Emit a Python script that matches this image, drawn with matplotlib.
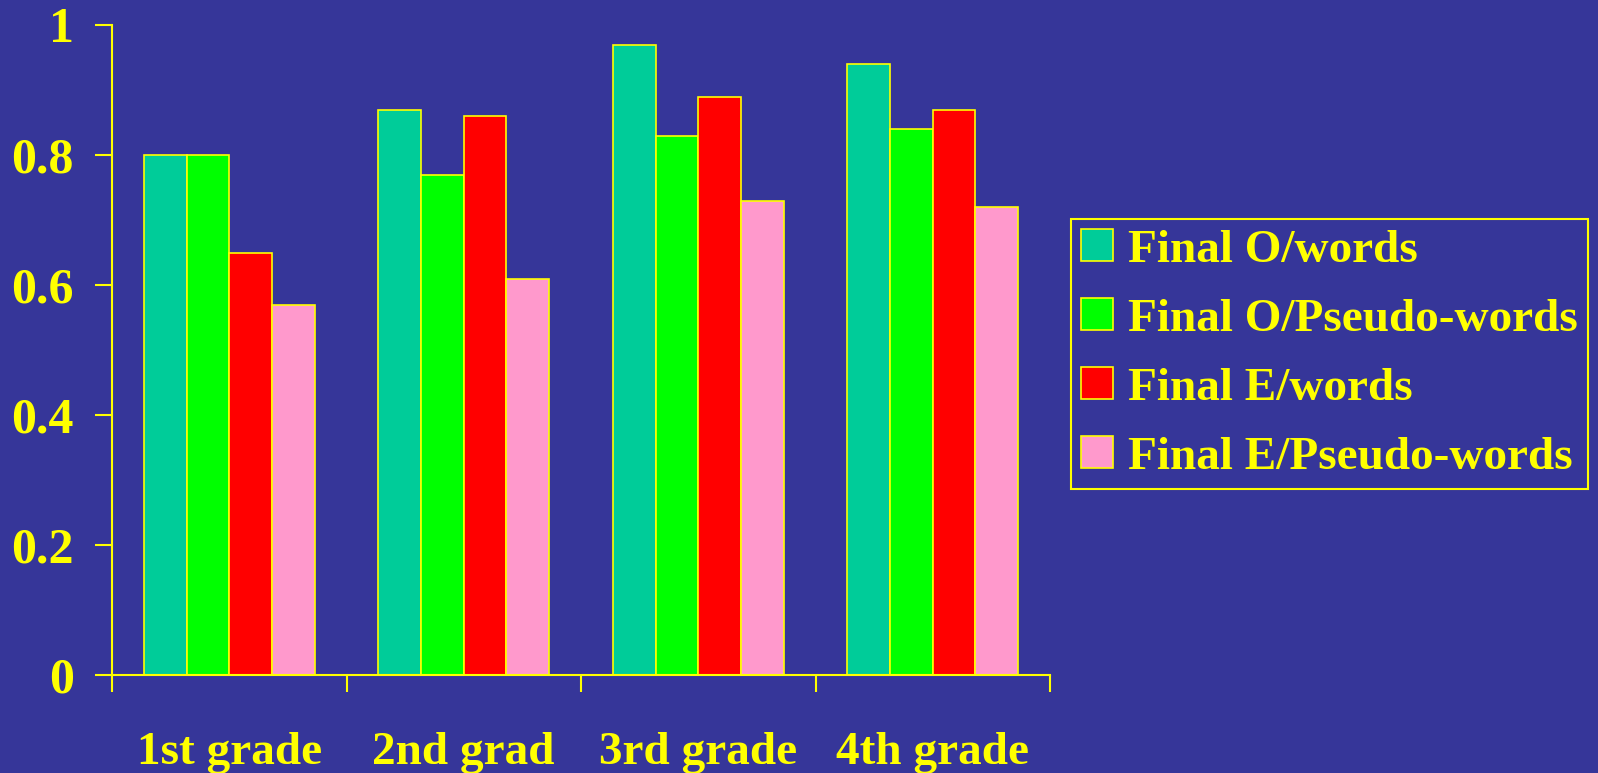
import numpy as np
import matplotlib
matplotlib.use("Agg")
import matplotlib.pyplot as plt

# data
grades = ["1st grade", "2nd grad", "3rd grade", "4th grade"]
series_names = ["Final O/words", "Final O/Pseudo-words", "Final E/words", "Final E/Pseudo-words"]
o_words = [0.80, 0.87, 0.97, 0.94]
o_pseudo = [0.80, 0.77, 0.83, 0.84]
e_words = [0.65, 0.86, 0.89, 0.87]
e_pseudo = [0.57, 0.61, 0.73, 0.72]
yticks = [0, 0.2, 0.4, 0.6, 0.8, 1]
ytick_labels = ["0", "0.2", "0.4", "0.6", "0.8", "1"]

bg = "#363699"
yellow = "#ffff00"
colors = ["#00cc99", "#00ff00", "#ff0000", "#ff99cc"]

plt.rcParams["font.family"] = ["Liberation Serif", "DejaVu Serif"]
plt.rcParams["font.weight"] = "bold"

fig = plt.figure(figsize=(15.98, 7.73), dpi=100, facecolor=bg)
ax = fig.add_axes([112 / 1598, 1 - 675 / 773, (1050 - 112) / 1598, (675 - 25) / 773])
ax.set_facecolor(bg)

x = np.arange(len(grades))
width = 0.182
all_series = [o_words, o_pseudo, e_words, e_pseudo]
for i, (vals, name) in enumerate(zip(all_series, series_names)):
    ax.bar(x + (i - 1.5) * width, vals, width, color=colors[i], edgecolor=yellow,
           linewidth=1.2, label=name)

ax.set_xlim(-0.5, len(grades) - 0.5)
ax.set_ylim(0, 1)

ax.set_yticks(yticks)
ax.set_yticklabels(ytick_labels)
ax.set_xticks(np.arange(len(grades) + 1) - 0.5)
ax.set_xticklabels([])
ax.set_xticks(x, minor=True)
ax.set_xticklabels(grades, minor=True)

ax.tick_params(axis="y", colors=yellow, labelsize=36, length=12, width=1.5, pad=15.5)
ax.tick_params(axis="x", which="major", colors=yellow, length=12, width=1.5)
ax.tick_params(axis="x", which="minor", colors=yellow, labelsize=34, length=0, pad=41)

for s in ["top", "right"]:
    ax.spines[s].set_visible(False)
for s in ["left", "bottom"]:
    ax.spines[s].set_color(yellow)
    ax.spines[s].set_linewidth(1.5)

leg = fig.legend(loc="upper left", bbox_to_anchor=(1071 / 1598, 1 - 219 / 773),
                 fontsize=34, frameon=True, fancybox=False, framealpha=1,
                 facecolor=bg, edgecolor=yellow, handlelength=0.66, handleheight=0.66,
                 handletextpad=0.32, labelspacing=0.56, borderpad=0.22, borderaxespad=0)
leg.get_frame().set_linewidth(1.5)
for t in leg.get_texts():
    t.set_color(yellow)

fig.savefig("out.png", dpi=100, facecolor=bg)
